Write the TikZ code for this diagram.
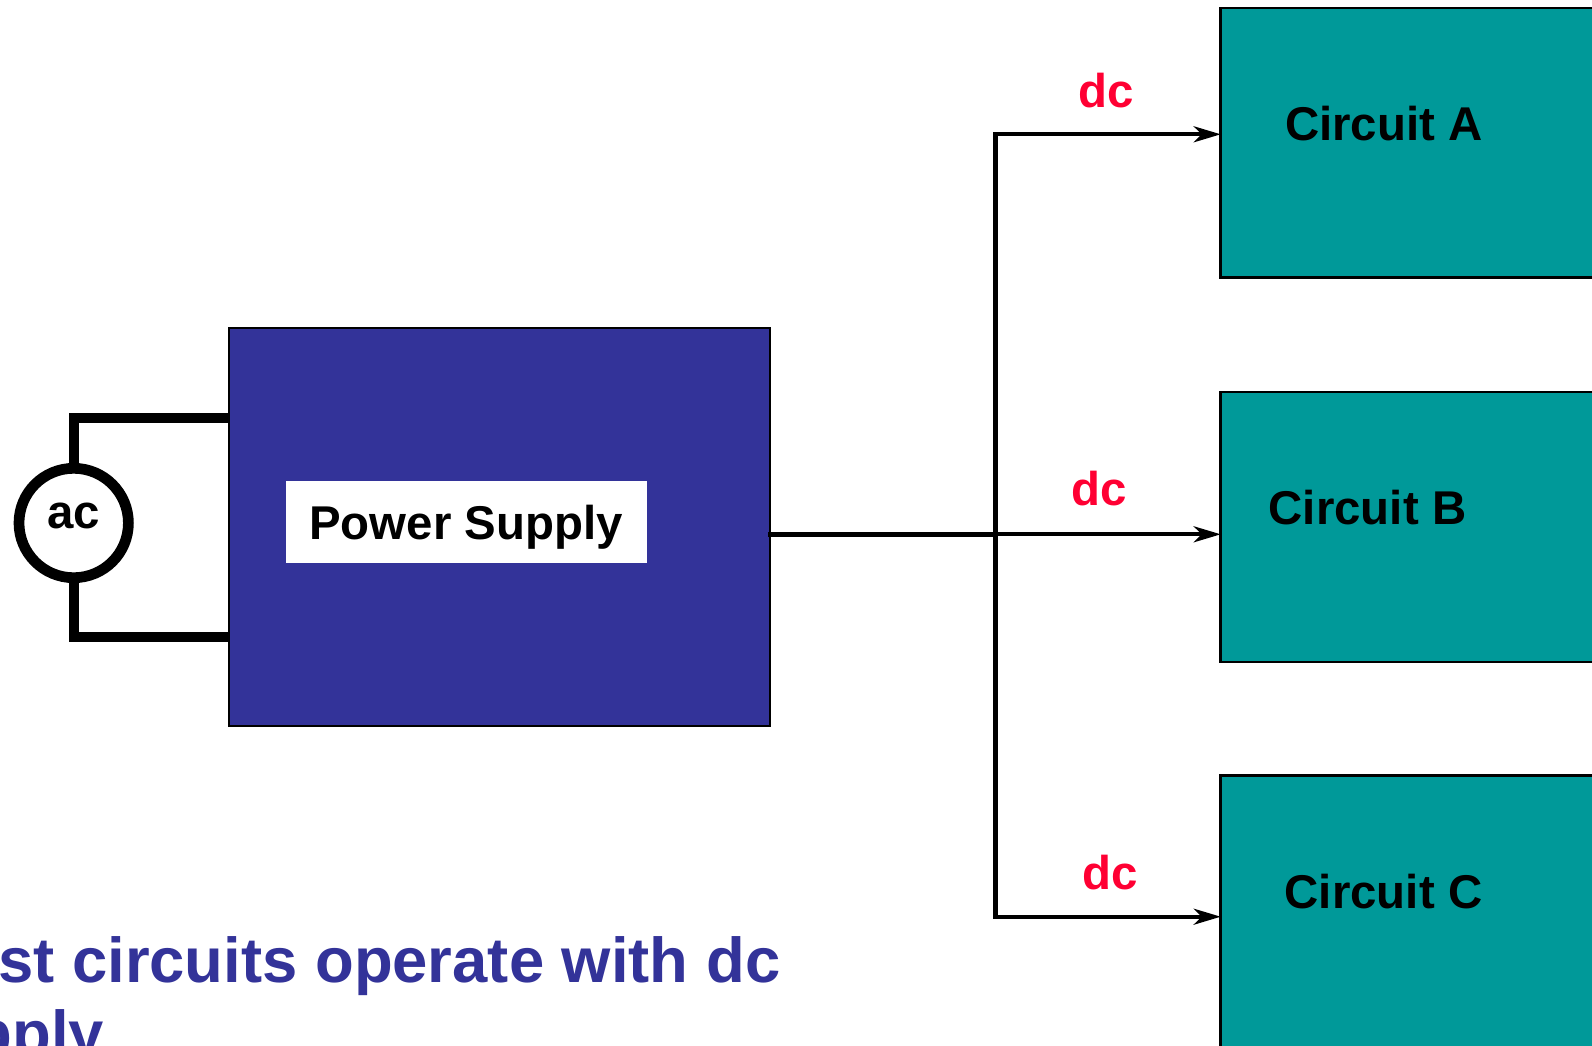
\documentclass[tikz,border=0pt]{standalone}
\usepackage{fontspec}
\setmainfont{Liberation Sans}
\usetikzlibrary{arrows.meta}
\definecolor{psblue}{HTML}{333399}
\definecolor{circteal}{HTML}{009999}
\definecolor{dcred}{HTML}{FF0033}
\begin{document}
\begin{tikzpicture}[x=1pt,y=-1pt,
  psbox/.style={draw=black,line width=2pt,fill=psblue,inner sep=0pt,outer sep=0pt,minimum width=541pt,minimum height=398pt},
  labelbox/.style={fill=white,inner sep=0pt,outer sep=0pt,minimum width=361pt,minimum height=82pt},
  circbox/.style={draw=black,line width=2.5pt,fill=circteal,inner sep=0pt,outer sep=0pt,minimum width=420pt,anchor=north west},
  lbl/.style={font=\fontsize{47.4}{57}\selectfont\bfseries,inner sep=0pt,anchor=base},
  dclbl/.style={lbl,text=dcred},
  source/.style={circle,draw=black,line width=10.7pt,fill=white,inner sep=0pt,outer sep=0pt,minimum size=109.4pt},
  wire/.style={line width=10pt,line join=miter,line cap=butt},
  bus/.style={line width=5pt,line cap=rect},
  arr/.style={line width=4pt,-{Stealth[length=27pt,width=16pt,inset=8pt]}},
  note/.style={font=\fontsize{63.4}{73}\selectfont\bfseries,text=psblue,inner sep=0pt,anchor=base west}
]
\useasboundingbox (0,0) rectangle (1592,1045);
\clip (0,0) rectangle (1592,1045);

% boxes
\node[psbox] (ps) at (499.5,527) {};
\node[labelbox] (pslabel) at (466.6,522) {};
\node[lbl] (pstext) at (466,539.3) {Power Supply};

\node[circbox,minimum height=269.7pt] (cA) at (1220.7,8) {};
\node[circbox,minimum height=270pt] (cB) at (1220.7,392) {};
\node[circbox,minimum height=290pt] (cC) at (1220.7,775.7) {};
\node[lbl] (tA) at (1383.9,140.7) {Circuit A};
\node[lbl] (tB) at (1367.5,524) {Circuit B};
\node[lbl] (tC) at (1383.5,908.7) {Circuit C};

% ac source
\node[source] (ac) at (73.7,523) {};
\node[lbl] (actext) at (73.4,528.3) {ac};
\coordinate (wT) at (73.7,417.5);
\coordinate (wB) at (73.7,636.7);
\draw[wire] (wT -| ps.west) -- (wT) -- (ac.north);
\draw[wire] (wB -| ps.west) -- (wB) -- (ac.south);

% dc bus
\coordinate (jA) at (995.5,134.3);
\coordinate (jB) at (995.5,534.3);
\coordinate (jC) at (995.5,916.7);
\draw[bus] (ps.east |- jB) -- (jB);
\draw[bus] (jA) -- (jC);
\draw[arr] (jA) -- (jA -| cA.west);
\draw[arr] (jB) -- (jB -| cB.west);
\draw[arr] (jC) -- (jC -| cC.west);

\node[dclbl] (dcA) at (1105.7,107.6) {dc};
\node[dclbl] (dcB) at (1099.6,505.6) {dc};
\node[dclbl] (dcC) at (1109.7,889.4) {dc};

% bottom note
\node[note] (note1) at (-2,982) {st circuits operate with dc};
\node[note] (note2) at (-26.5,1055) {pply};
\end{tikzpicture}
\end{document}
